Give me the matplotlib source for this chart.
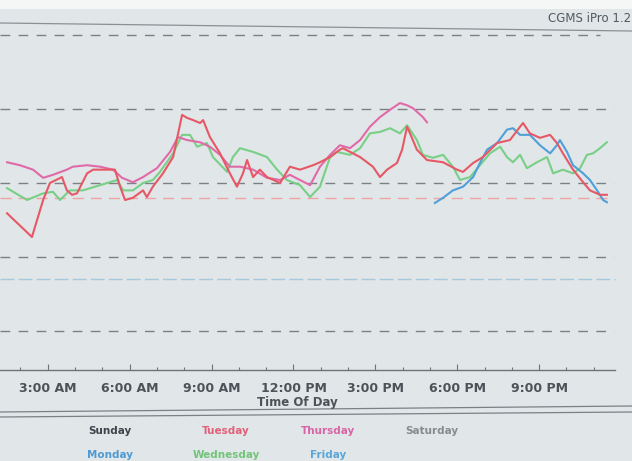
import matplotlib.pyplot as plt
from matplotlib.lines import Line2D
from matplotlib.ticker import FixedLocator, FuncFormatter

# Sensor glucose (mg/dL) by hour of day, one trace per weekday
tuesday_hours = [1.51, 2.42, 2.83, 3.08, 3.52, 3.70, 3.89, 4.07, 4.44, 4.66, 5.17, 5.46, 5.65, 5.83,
                 6.12, 6.49, 6.63, 6.85, 7.22, 7.59, 7.92, 8.10, 8.32, 8.58, 8.69, 8.94, 9.31, 9.67,
                 9.93, 10.15, 10.30, 10.52, 10.77, 11.03, 11.51, 11.87, 12.24, 12.72, 12.97, 13.34,
                 13.70, 13.81, 14.44, 14.91, 15.17, 15.43, 15.79, 15.98, 16.16, 16.27, 16.52, 16.89,
                 17.48, 17.99, 18.21, 18.58, 18.94, 19.46, 19.93, 20.30, 20.41, 20.66, 21.03, 21.40,
                 21.65, 21.87, 22.24, 22.61, 22.86, 23.23, 23.48]
tuesday_bg = [159, 127, 177, 200, 208, 190, 184, 186, 213, 218, 218, 218, 195, 177,
              180, 190, 181, 195, 213, 235, 292, 288, 285, 281, 285, 262, 240, 213,
              195, 213, 231, 208, 218, 208, 200, 222, 218, 224, 228, 235,
              245, 247, 235, 222, 208, 218, 227, 245, 276, 267, 245, 231,
              228, 218, 215, 227, 235, 254, 258, 276, 281, 267, 261, 265,
              254, 240, 218, 201, 190, 184, 184]

thursday_hours = [1.51, 1.98, 2.46, 2.83, 3.19, 3.70, 3.92, 4.44, 4.91, 5.39, 5.72, 6.12, 6.49,
                  7.00, 7.48, 7.77, 8.10, 8.58, 8.94, 9.31, 9.67, 10.04, 10.52, 11.03, 11.51,
                  11.87, 12.24, 12.61, 12.97, 13.34, 13.70, 14.07, 14.44, 14.80, 15.17, 15.54,
                  15.90, 16.16, 16.38, 16.74, 16.89]
thursday_bg = [228, 224, 218, 207, 211, 218, 222, 224, 222, 218, 207, 201, 208,
               220, 242, 262, 258, 255, 249, 238, 222, 222, 218, 207, 204,
               211, 204, 197, 222, 238, 251, 247, 258, 276, 289, 299,
               308, 305, 301, 289, 282]

wednesday_hours = [1.51, 2.24, 2.83, 3.19, 3.45, 3.81, 4.29, 4.91, 5.54, 5.76, 6.12, 6.49, 6.85,
                   7.11, 7.59, 7.92, 8.21, 8.47, 8.83, 9.05, 9.57, 9.78, 10.04, 10.52, 11.03,
                   11.40, 11.76, 12.24, 12.61, 12.97, 13.34, 13.59, 14.07, 14.44, 14.80, 15.17,
                   15.54, 15.90, 16.16, 16.52, 16.74, 17.11, 17.48, 17.84, 18.10, 18.47, 18.83,
                   19.20, 19.57, 19.82, 20.04, 20.30, 20.55, 20.92, 21.29, 21.51, 21.87, 22.24,
                   22.50, 22.75, 22.97, 23.23, 23.48]
wednesday_bg = [193, 177, 186, 188, 177, 190, 190, 197, 204, 190, 190, 200, 204,
                215, 240, 265, 265, 249, 254, 235, 215, 235, 247, 242, 235,
                218, 204, 197, 181, 195, 235, 242, 238, 247, 267, 269,
                274, 267, 278, 258, 238, 234, 238, 222, 204, 208, 224,
                240, 249, 235, 228, 238, 220, 228, 235, 213, 218, 213,
                220, 238, 240, 247, 255]

monday_hours = [17.18, 17.48, 17.84, 18.21, 18.58, 18.83, 19.09, 19.46, 19.82, 20.04, 20.30,
                20.66, 21.03, 21.40, 21.65, 21.76, 22.02, 22.24, 22.61, 22.86, 23.12, 23.34, 23.48]
monday_bg = [173, 180, 190, 195, 208, 227, 245, 254, 272, 274, 265,
             265, 251, 240, 251, 258, 242, 224, 213, 204, 190, 177, 174]

grid_levels = [400, 300, 200, 100, 0]
high_limit = 180
low_limit = 70

major_hours = [3, 6, 9, 12, 15, 18, 21]
minor_hours = list(range(2, 24))

legend_rows = [["Sunday", "Tuesday", "Thursday", "Saturday"],
               ["Monday", "Wednesday", "Friday"]]
day_colors = {
    "Sunday": "#3c454b",
    "Monday": "#4f9ad2",
    "Tuesday": "#e2607a",
    "Wednesday": "#72c47a",
    "Thursday": "#d866a6",
    "Friday": "#5aa6d8",
    "Saturday": "#878b8e",
}

PAPER = "#e1e6e8"
W, H = 632, 461


def hour_label(h, _pos=None):
    h = int(round(h))
    suffix = "AM" if h < 12 else "PM"
    h12 = h % 12 or 12
    return f"{h12}:00 {suffix}"


def fig_line(fig, x0, y0, x1, y1, **kw):
    # pixel coords measured from the top-left corner
    fig.add_artist(Line2D([x0 / W, x1 / W], [1 - y0 / H, 1 - y1 / H],
                          transform=fig.transFigure, **kw))


fig = plt.figure(figsize=(6.32, 4.61), dpi=100, facecolor=PAPER)

# white strip along the top edge
fig.patches.append(plt.Rectangle((0, 1 - 9 / H), 1, 9 / H, transform=fig.transFigure,
                                 facecolor="#f5f7f7", edgecolor="none", zorder=0))

# plot area: 27.3 px per hour, x axis line at y=370 px
px_per_hour = 27.3
x0 = 1.25
ax = fig.add_axes([0, 1 - 370 / H, 1, (370 - 28) / H])
ax.set_facecolor("none")
ax.set_xlim(x0, x0 + W / px_per_hour)
ax.set_ylim(-52.7, 409.4)

for lvl in grid_levels:
    right = 600 if lvl == 400 else 614
    ax.hlines(lvl, x0, x0 + right / px_per_hour, colors="#7b8084", linewidth=1.0,
              linestyles=(0, (7, 6)), zorder=1)
ax.hlines(high_limit, x0, x0 + 612 / px_per_hour, colors="#eea4a6", linewidth=1.0,
          linestyles=(0, (8, 5)), zorder=1)
ax.hlines(low_limit, x0, x0 + 615 / px_per_hour, colors="#a6c9de", linewidth=1.0,
          linestyles=(0, (10, 3)), zorder=1)

ax.plot(wednesday_hours, wednesday_bg, color="#78cf86", linewidth=1.5, zorder=3)
ax.plot(thursday_hours, thursday_bg, color="#e06aa8", linewidth=1.5, zorder=3)
ax.plot(tuesday_hours, tuesday_bg, color="#e65866", linewidth=1.5, zorder=4)
ax.plot(monday_hours, monday_bg, color="#4f9fd8", linewidth=1.5, zorder=3)

for side in ["top", "left", "right"]:
    ax.spines[side].set_visible(False)
ax.spines["bottom"].set_color("#6f7478")
ax.spines["bottom"].set_linewidth(1.0)
ax.spines["bottom"].set_bounds(x0, x0 + 615 / px_per_hour)
ax.set_yticks([])

ax.xaxis.set_major_locator(FixedLocator(major_hours))
ax.xaxis.set_minor_locator(FixedLocator(minor_hours))
ax.xaxis.set_major_formatter(FuncFormatter(hour_label))
ax.tick_params(axis="x", which="major", direction="in", length=4.5, width=0.8,
               color="#6f7478", pad=9, labelsize=9, labelcolor="#4b5358")
ax.tick_params(axis="x", which="minor", direction="in", length=2.2, width=0.8,
               color="#6f7478")
for lab in ax.get_xticklabels():
    lab.set_fontweight("bold")

fig.text(297 / W, 1 - 402 / H, "Time Of Day", ha="center", va="center",
         fontsize=8.5, fontweight="bold", color="#4b5358")

fig.text(548 / W, 1 - 18 / H, "CGMS iPro 1.2", ha="left", va="center",
         fontsize=8.5, color="#51595e")

# rules above the plot and above the legend
fig_line(fig, 0, 23, W, 31, color="#8a9094", linewidth=0.9)
fig_line(fig, 0, 412, W, 406, color="#7a8084", linewidth=0.9)
fig_line(fig, 0, 417, W, 412, color="#7a8084", linewidth=0.9)

# day legend
col_x = [110, 226, 328, 432]
row_y = [431, 455]
for r, names in enumerate(legend_rows):
    for c, name in enumerate(names):
        fig.text(col_x[c] / W, 1 - row_y[r] / H, name, ha="center", va="center",
                 fontsize=7.5, fontweight="bold", color=day_colors[name])

plt.savefig("out.png", dpi=100, facecolor=PAPER)
